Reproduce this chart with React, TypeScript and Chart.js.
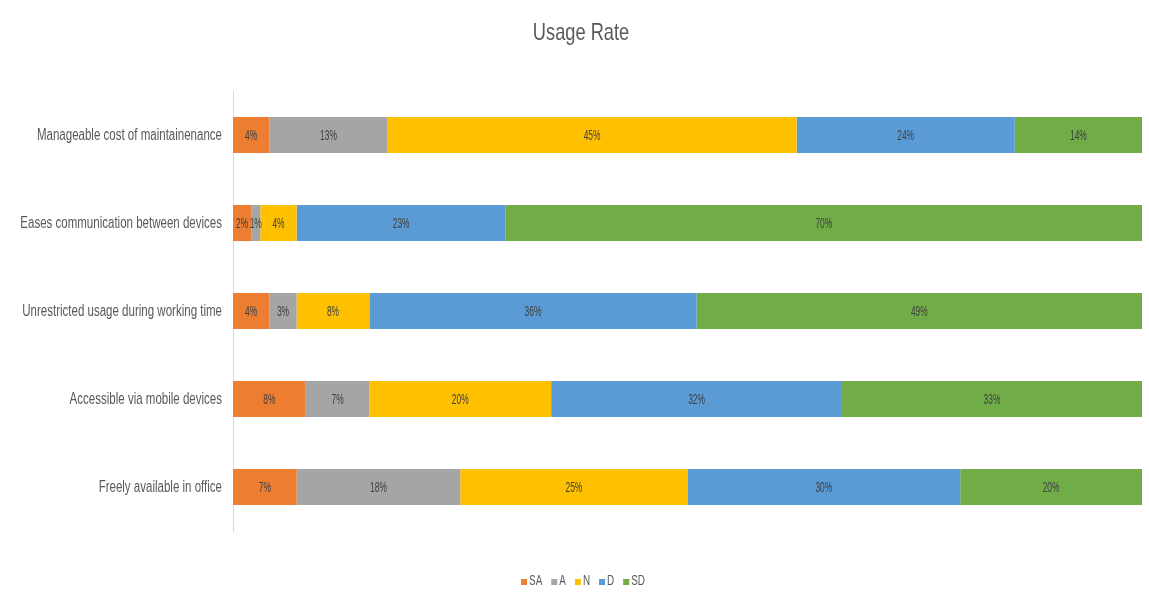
import React, { useEffect, useRef } from "react";
import { Chart, registerables } from "chart.js";

Chart.register(...registerables);

const categories = [
  "Manageable cost of maintainenance",
  "Eases communication between devices",
  "Unrestricted usage during working time",
  "Accessible via mobile devices",
  "Freely available in office",
];
const seriesNames = ["SA", "A", "N", "D", "SD"];
const saValues = [4, 2, 4, 8, 7];
const aValues = [13, 1, 3, 7, 18];
const nValues = [45, 4, 8, 20, 25];
const dValues = [24, 23, 36, 32, 30];
const sdValues = [14, 70, 49, 33, 20];
const colors = ["#ED7D31", "#A5A5A5", "#FFC000", "#5B9BD5", "#70AD47"];
const titleText = "Usage Rate";

const FONT = "'Liberation Sans', Arial, sans-serif";

function narrowText(ctx: any, text: string, x: number, y: number, sx: number, align: string) {
  ctx.save();
  ctx.translate(x, y);
  ctx.scale(sx, 1);
  ctx.textAlign = align;
  ctx.textBaseline = "middle";
  ctx.fillText(text, 0, 0);
  ctx.restore();
}

const narrowLabels = {
  id: "narrowLabels",
  afterDatasetsDraw(chart: any) {
    const ctx = chart.ctx;
    // bar value labels
    ctx.save();
    ctx.font = `15px ${FONT}`;
    ctx.fillStyle = "#404040";
    chart.data.datasets.forEach((ds: any, di: number) => {
      const meta = chart.getDatasetMeta(di);
      meta.data.forEach((bar: any, i: number) => {
        const v = ds.data[i];
        const cx = (bar.x + bar.base) / 2;
        narrowText(ctx, `${v}%`, cx, bar.y + 1, 0.56, "center");
      });
    });
    ctx.restore();

    // category labels
    const yScale = chart.scales.y;
    ctx.save();
    ctx.font = `16px ${FONT}`;
    ctx.fillStyle = "#595959";
    chart.data.labels.forEach((lab: string, i: number) => {
      const y = yScale.getPixelForValue(i);
      narrowText(ctx, lab, yScale.right - 11, y + 1, 0.72, "right");
    });
    ctx.restore();

    // title
    ctx.save();
    ctx.font = `24px ${FONT}`;
    ctx.fillStyle = "#595959";
    narrowText(ctx, titleText, 581, 33, 0.76, "center");
    ctx.restore();

    // legend
    ctx.save();
    ctx.font = `15px ${FONT}`;
    const sx = 0.66;
    const box = 6;
    const gapBox = 2;
    const gapItem = 9;
    const widths = chart.data.datasets.map(
      (ds: any) => box + gapBox + ctx.measureText(ds.label).width * sx
    );
    const total = widths.reduce((a: number, b: number) => a + b, 0) + gapItem * (widths.length - 1);
    let x = 583 - total / 2;
    const ly = 580;
    chart.data.datasets.forEach((ds: any, i: number) => {
      ctx.fillStyle = ds.backgroundColor;
      ctx.fillRect(x, ly - box / 2 + 2, box, box);
      ctx.fillStyle = "#595959";
      narrowText(ctx, ds.label, x + box + gapBox, ly + 1, sx, "left");
      x += widths[i] + gapItem;
    });
    ctx.restore();
  },
};

export default function App() {
  const ref = useRef<HTMLCanvasElement | null>(null);
  useEffect(() => {
    if (!ref.current) return;
    const all = [saValues, aValues, nValues, dValues, sdValues];
    const chart = new Chart(ref.current, {
      type: "bar",
      data: {
        labels: categories,
        datasets: all.map((d, i) => ({
          label: seriesNames[i],
          data: d,
          backgroundColor: colors[i],
          borderWidth: 0,
          barPercentage: 0.82,
          categoryPercentage: 0.5,
        })),
      },
      options: {
        indexAxis: "y",
        animation: false,
        responsive: false,
        maintainAspectRatio: false,
        layout: { padding: { left: 0, right: 7, top: 91, bottom: 71 } },
        scales: {
          x: {
            display: false,
            stacked: true,
            min: 0,
            max: 100,
          },
          y: {
            stacked: true,
            grid: { display: false },
            border: { display: true, color: "#D9D9D9" },
            ticks: { display: false },
            afterFit: (s: any) => {
              s.width = 233;
            },
          },
        },
        plugins: {
          title: { display: false },
          legend: { display: false },
          tooltip: { enabled: false },
        },
      },
      plugins: [narrowLabels],
    });
    return () => chart.destroy();
  }, []);
  return (
    <div style={{ position: "absolute", left: 0, top: 0, width: 1149, height: 602, background: "#fff" }}>
      <canvas ref={ref} width={1149} height={602} style={{ width: 1149, height: 602 }} />
    </div>
  );
}
